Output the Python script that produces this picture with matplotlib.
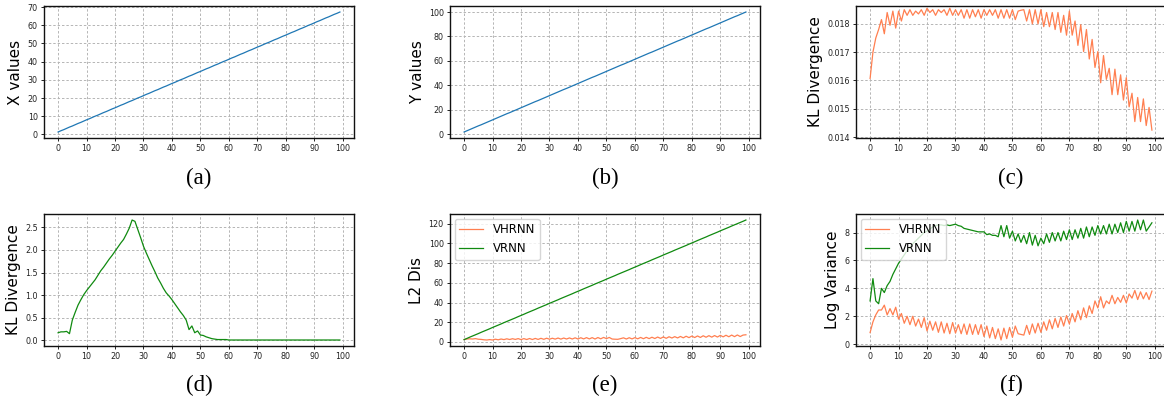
import matplotlib
matplotlib.use("Agg")
import matplotlib.pyplot as plt

steps = list(range(100))

x_values = [1.3, 2.0, 2.6, 3.3, 4.0, 4.6, 5.3, 6.0, 6.6, 7.3,
            8.0, 8.6, 9.3, 10.0, 10.6, 11.3, 12.0, 12.6, 13.3, 14.0,
            14.6, 15.3, 16.0, 16.6, 17.3, 18.0, 18.6, 19.3, 20.0, 20.6,
            21.3, 22.0, 22.6, 23.3, 24.0, 24.6, 25.3, 26.0, 26.6, 27.3,
            28.0, 28.6, 29.3, 30.0, 30.6, 31.3, 32.0, 32.6, 33.3, 34.0,
            34.6, 35.3, 36.0, 36.6, 37.3, 38.0, 38.6, 39.3, 40.0, 40.6,
            41.3, 42.0, 42.6, 43.3, 44.0, 44.6, 45.3, 46.0, 46.6, 47.3,
            48.0, 48.6, 49.3, 50.0, 50.6, 51.3, 52.0, 52.6, 53.3, 54.0,
            54.6, 55.3, 56.0, 56.6, 57.3, 58.0, 58.6, 59.3, 60.0, 60.6,
            61.3, 62.0, 62.6, 63.3, 64.0, 64.6, 65.3, 66.0, 66.6, 67.3]

y_values = [2.0, 3.0, 4.0, 5.0, 6.0, 7.0, 7.9, 8.9, 9.9, 10.9,
            11.9, 12.9, 13.9, 14.9, 15.9, 16.9, 17.8, 18.8, 19.8, 20.8,
            21.8, 22.8, 23.8, 24.8, 25.8, 26.8, 27.7, 28.7, 29.7, 30.7,
            31.7, 32.7, 33.7, 34.7, 35.7, 36.7, 37.6, 38.6, 39.6, 40.6,
            41.6, 42.6, 43.6, 44.6, 45.6, 46.6, 47.5, 48.5, 49.5, 50.5,
            51.5, 52.5, 53.5, 54.5, 55.5, 56.5, 57.4, 58.4, 59.4, 60.4,
            61.4, 62.4, 63.4, 64.4, 65.4, 66.4, 67.3, 68.3, 69.3, 70.3,
            71.3, 72.3, 73.3, 74.3, 75.3, 76.3, 77.2, 78.2, 79.2, 80.2,
            81.2, 82.2, 83.2, 84.2, 85.2, 86.2, 87.1, 88.1, 89.1, 90.1,
            91.1, 92.1, 93.1, 94.1, 95.1, 96.1, 97.0, 98.0, 99.0, 100.0]

kl_vhrnn = [0.01607, 0.01700, 0.01750, 0.01780, 0.01815, 0.01765, 0.01840, 0.01795, 0.01845, 0.01785,
            0.01845, 0.01810, 0.01850, 0.01830, 0.01850, 0.01830, 0.01845, 0.01835, 0.01850, 0.01830,
            0.01855, 0.01840, 0.01850, 0.01830, 0.01850, 0.01840, 0.01850, 0.01830, 0.01855, 0.01830,
            0.01850, 0.01830, 0.01850, 0.01820, 0.01850, 0.01820, 0.01850, 0.01825, 0.01850, 0.01820,
            0.01850, 0.01830, 0.01850, 0.01830, 0.01850, 0.01820, 0.01850, 0.01820, 0.01850, 0.01820,
            0.01850, 0.01815, 0.01845, 0.01848, 0.01850, 0.01810, 0.01850, 0.01800, 0.01850, 0.01800,
            0.01850, 0.01790, 0.01840, 0.01790, 0.01840, 0.01780, 0.01840, 0.01770, 0.01830, 0.01760,
            0.01845, 0.01760, 0.01810, 0.01724, 0.01797, 0.01702, 0.01780, 0.01676, 0.01745, 0.01646,
            0.01702, 0.01592, 0.01688, 0.01604, 0.01643, 0.01550, 0.01640, 0.01550, 0.01620, 0.01531,
            0.01610, 0.01507, 0.01555, 0.01455, 0.01540, 0.01455, 0.01535, 0.01441, 0.01505, 0.01425]

kl_vrnn = [0.17, 0.19, 0.19, 0.20, 0.15, 0.45, 0.62, 0.78, 0.90, 1.01,
           1.10, 1.18, 1.26, 1.34, 1.44, 1.54, 1.62, 1.71, 1.80, 1.88,
           1.97, 2.06, 2.15, 2.23, 2.35, 2.48, 2.66, 2.63, 2.45, 2.27,
           2.08, 1.93, 1.79, 1.65, 1.52, 1.38, 1.27, 1.15, 1.05, 0.98,
           0.90, 0.81, 0.72, 0.63, 0.55, 0.45, 0.24, 0.32, 0.17, 0.21,
           0.12, 0.11, 0.08, 0.06, 0.04, 0.03, 0.02, 0.02, 0.02, 0.02,
           0.01, 0.01, 0.01, 0.01, 0.01, 0.01, 0.01, 0.01, 0.01, 0.01,
           0.01, 0.01, 0.01, 0.01, 0.01, 0.01, 0.01, 0.01, 0.01, 0.01,
           0.01, 0.01, 0.01, 0.01, 0.01, 0.01, 0.01, 0.01, 0.01, 0.01,
           0.01, 0.01, 0.01, 0.01, 0.01, 0.01, 0.01, 0.01, 0.01, 0.01]

l2_vhrnn = [2.5, 3.0, 3.2, 3.0, 3.4, 2.8, 2.6, 2.2, 2.0, 2.4,
            2.0, 2.8, 2.2, 3.0, 2.4, 3.2, 2.5, 3.3, 2.6, 3.4,
            2.4, 3.4, 2.5, 3.5, 2.5, 3.6, 2.6, 3.7, 2.7, 3.8,
            2.8, 3.8, 2.9, 4.0, 2.9, 4.0, 3.0, 4.1, 3.0, 4.2,
            3.0, 4.3, 3.1, 4.4, 3.1, 4.4, 3.0, 4.5, 3.2, 4.6,
            3.4, 4.6, 3.0, 2.8, 2.7, 3.4, 4.2, 3.0, 4.3, 3.1,
            4.4, 3.2, 4.6, 3.3, 4.7, 3.4, 4.8, 3.5, 5.0, 3.6,
            5.1, 3.7, 5.3, 4.0, 5.4, 4.1, 5.6, 4.2, 5.8, 4.4,
            6.0, 4.5, 6.1, 4.6, 6.3, 4.8, 6.4, 4.9, 6.5, 5.0,
            6.7, 5.2, 6.8, 5.3, 7.0, 5.4, 7.1, 5.5, 7.0, 7.3]

l2_vrnn = [2.4, 3.6, 4.9, 6.1, 7.3, 8.5, 9.8, 11.0, 12.2, 13.4,
           14.7, 15.9, 17.1, 18.3, 19.6, 20.8, 22.0, 23.2, 24.4, 25.7,
           26.9, 28.1, 29.4, 30.6, 31.8, 33.0, 34.3, 35.5, 36.7, 37.9,
           39.2, 40.4, 41.6, 42.8, 44.1, 45.3, 46.5, 47.7, 48.9, 50.2,
           51.4, 52.6, 53.9, 55.1, 56.3, 57.5, 58.8, 60.0, 61.2, 62.4,
           63.7, 64.9, 66.1, 67.3, 68.6, 69.8, 71.0, 72.2, 73.4, 74.7,
           75.9, 77.1, 78.4, 79.6, 80.8, 82.0, 83.3, 84.5, 85.7, 86.9,
           88.2, 89.4, 90.6, 91.8, 93.1, 94.3, 95.5, 96.7, 97.9, 99.2,
           100.4, 101.6, 102.9, 104.1, 105.3, 106.5, 107.8, 109.0, 110.2, 111.4,
           112.7, 113.9, 115.1, 116.3, 117.6, 118.8, 120.0, 121.2, 122.4, 123.7]

logvar_vhrnn = [0.83, 1.6, 2.1, 2.45, 2.45, 2.8, 2.1, 2.55, 2.1, 2.65,
                1.8, 2.2, 1.5, 2.0, 1.4, 2.0, 1.3, 1.8, 1.2, 1.9,
                0.95, 1.65, 1.0, 1.6, 0.85, 1.6, 0.8, 1.5, 0.75, 1.55,
                0.8, 1.4, 0.75, 1.45, 0.7, 1.45, 0.7, 1.4, 0.7, 1.4,
                0.55, 1.3, 0.45, 1.2, 0.4, 1.1, 0.3, 1.15, 0.4, 1.2,
                0.5, 1.3, 0.75, 0.7, 0.65, 1.35, 0.7, 1.45, 0.8, 1.5,
                0.85, 1.6, 1.0, 1.75, 1.1, 1.85, 1.2, 1.95, 1.3, 2.05,
                1.45, 2.2, 1.6, 2.4, 1.75, 2.6, 1.9, 2.75, 2.2, 3.1,
                2.6, 3.4, 2.6, 3.1, 2.9, 3.5, 2.9, 3.35, 3.0, 3.5,
                2.95, 3.6, 3.3, 3.85, 3.2, 3.75, 3.25, 3.7, 3.2, 3.8]

logvar_vrnn = [3.1, 4.7, 3.1, 2.9, 4.0, 3.7, 4.2, 4.5, 5.0, 5.4,
               5.8, 6.1, 6.4, 6.7, 6.95, 7.2, 7.4, 7.6, 7.8, 8.0,
               8.1, 8.25, 8.4, 8.5, 8.55, 8.55, 8.5, 8.55, 8.5, 8.55,
               8.6, 8.5, 8.45, 8.3, 8.25, 8.2, 8.15, 8.1, 8.05, 8.05,
               8.05, 7.85, 7.9, 7.8, 7.8, 7.7, 8.5, 7.7, 8.5, 7.6,
               8.1, 7.4, 7.9, 7.3, 7.8, 7.2, 8.0, 7.1, 7.8, 7.05,
               7.6, 7.2, 7.9, 7.3, 8.0, 7.4, 8.0, 7.4, 8.1, 7.5,
               8.2, 7.5, 8.2, 7.6, 8.3, 7.6, 8.4, 7.7, 8.4, 7.8,
               8.5, 7.9, 8.5, 7.9, 8.6, 7.9, 8.6, 8.0, 8.7, 8.0,
               8.8, 8.1, 8.8, 8.1, 8.9, 8.2, 8.9, 8.1, 8.4, 8.7]

x_ticks = [0, 10, 20, 30, 40, 50, 60, 70, 80, 90, 100]
captions = ["(a)", "(b)", "(c)", "(d)", "(e)", "(f)"]

ORANGE = "#ff7f50"
GREEN = "#108a10"
BLUE = "#1f77b4"

W, H = 1164, 400
fig = plt.figure(figsize=(W / 100, H / 100), dpi=100)

def make_ax(left_px, top_px, width_px=310, height_px=132):
    return fig.add_axes([left_px / W, 1 - (top_px + height_px) / H, width_px / W, height_px / H])

lefts = [44, 450, 856]
tops = [6, 214]
axes = []
for r in range(2):
    for c in range(3):
        axes.append(make_ax(lefts[c], tops[r]))

def style(ax, ylabel, yticks):
    ax.set_xticks(x_ticks)
    ax.set_yticks(yticks)
    ax.tick_params(labelsize=5.8, length=2.5, width=0.7, pad=2, colors="#222222")
    ax.grid(True, linestyle=(0, (2.5, 2)), color="#b5b5b5", linewidth=0.7)
    ax.set_axisbelow(True)
    for s in ax.spines.values():
        s.set_color("#111111")
        s.set_linewidth(1.0)
    ax.set_ylabel(ylabel, fontsize=11, labelpad=3)

ax = axes[0]
ax.plot(steps, x_values, color=BLUE, lw=0.9)
style(ax, "X values", [0, 10, 20, 30, 40, 50, 60, 70])

ax = axes[1]
ax.plot(steps, y_values, color=BLUE, lw=0.9)
style(ax, "Y values", [0, 20, 40, 60, 80, 100])

ax = axes[2]
ax.plot(steps, kl_vhrnn, color=ORANGE, lw=0.9)
style(ax, "KL Divergence", [0.014, 0.015, 0.016, 0.017, 0.018])
ax.set_ylim(0.01397, 0.01863)

ax = axes[3]
ax.plot(steps, kl_vrnn, color=GREEN, lw=0.9)
style(ax, "KL Divergence", [0.0, 0.5, 1.0, 1.5, 2.0, 2.5])

ax = axes[4]
ax.plot(steps, l2_vhrnn, color=ORANGE, lw=0.9, label="VHRNN")
ax.plot(steps, l2_vrnn, color=GREEN, lw=0.9, label="VRNN")
style(ax, "L2 Dis", [0, 20, 40, 60, 80, 100, 120])
ax.legend(loc="upper left", fontsize=8.5, borderaxespad=0.4, handlelength=2.0)

ax = axes[5]
ax.plot(steps, logvar_vhrnn, color=ORANGE, lw=0.9, label="VHRNN")
ax.plot(steps, logvar_vrnn, color=GREEN, lw=0.9, label="VRNN")
style(ax, "Log Variance", [0, 2, 4, 6, 8])
ax.legend(loc="upper left", fontsize=8.5, borderaxespad=0.4, handlelength=2.0)

for i, ax in enumerate(axes):
    ax.set_xlim(-4.95, 103.95)
    r, c = divmod(i, 3)
    cx = (lefts[c] + 155) / W
    cy = 1 - (178 if r == 0 else 385) / H
    fig.text(cx, cy, captions[i], fontsize=16.5, family="Liberation Serif",
             ha="center", va="center")

fig.savefig("out.png", dpi=100)
